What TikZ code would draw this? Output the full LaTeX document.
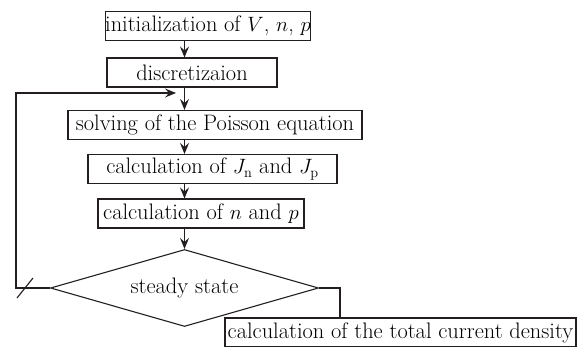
\documentclass[tikz,border=0pt]{standalone}
\usepackage{amsmath, amssymb}
\usepackage{tikz}
\usetikzlibrary{arrows.meta, positioning, calc, shapes.geometric}
\usepackage{xcolor}
\definecolor{lineDark}{HTML}{231F20}

\begin{document}
\begin{tikzpicture}[
        x=1pt, y=-1pt,
        font=\fontsize{22.4}{26}\selectfont,
        line width=1.1pt, draw=lineDark,
        box/.style={draw=lineDark, inner sep=0pt, minimum width=#1,
                    minimum height=29pt, align=center},
        decision/.style={draw=lineDark, diamond, inner sep=0pt, aspect=3.47,
                    minimum width=268pt, minimum height=77pt},
        flow/.style={-{Stealth[length=11pt, width=9pt, inset=4pt]}, lineDark}
      ]
      \useasboundingbox (0,0) rectangle (579,346);
      \coordinate (axis) at (184.5,0);
      \node[box=202pt] (init)   at (208,26)    {initialization of $V$, $n$, $p$};
      \node[box=170pt] (disc)   at (192,72.5)  {discretizaion};
      \node[box=294pt] (poisson) at (215,125)  {solving of the Poisson equation};
      \node[box=249pt] (curr)   at (212.5,169) {calculation of $J_{\mathrm{n}}$ and $J_{\mathrm{p}}$};
      \node[box=206pt] (carr)   at (201,213.5) {calculation of $n$ and $p$};
      \node[decision]  (steady) at (184.5,288)   {steady state};
      \node[box=351pt] (total)  at (400.5,332.5) {calculation of the total current density};
      \draw[flow] (init.south -| axis) -- (disc.north -| axis);
      \draw[flow] (disc.south -| axis) -- (poisson.north -| axis);
      \draw[flow] (poisson.south -| axis) -- (curr.north -| axis);
      \draw[flow] (curr.south -| axis) -- (carr.north -| axis);
      \draw[flow] (carr.south -| axis) -- (steady.north);
      % loop back when not steady
      \coordinate (back) at (16,93);
      \coordinate (join) at (176,93);
      \draw[flow] (steady.west) -| (back) -- (join);
      \draw (17,298) -- (33,278);
      % exit when steady
      \coordinate (exit) at (340,0);
      \draw (steady.east) -| (total.north -| exit);
    \end{tikzpicture}
\end{document}
